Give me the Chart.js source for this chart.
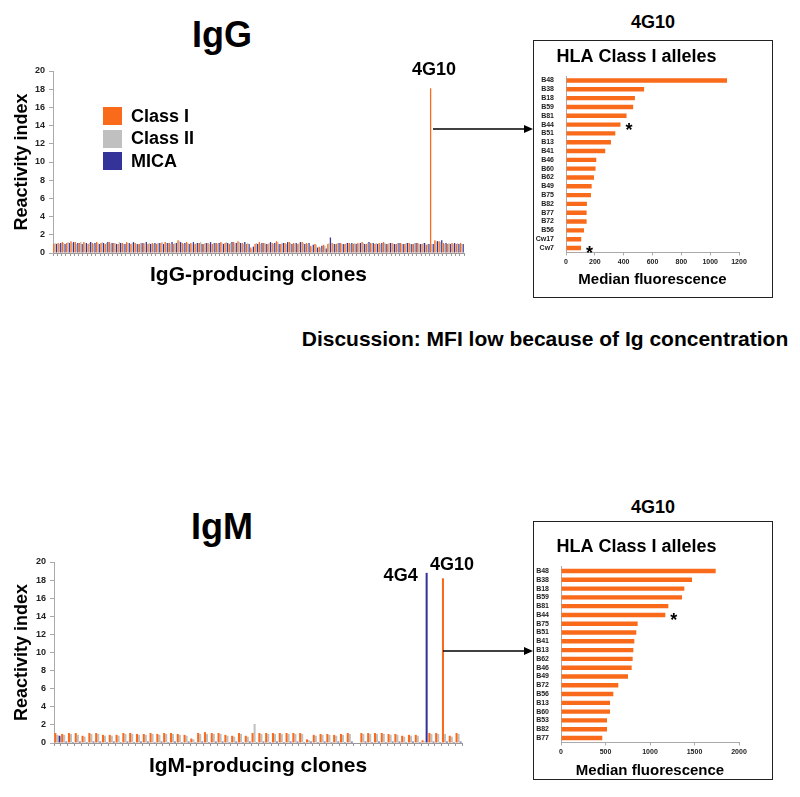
<!DOCTYPE html>
<html>
<head>
<meta charset="utf-8">
<script src="https://cdn.jsdelivr.net/npm/chart.js@4.4.1/dist/chart.umd.min.js"></script>
<style>
  body { margin: 0; background: #fff; font-family: "Liberation Sans", Arial, sans-serif; }
  #page { position: relative; width: 800px; height: 797px; overflow: hidden; }
  .lbl { position: absolute; font-weight: bold; color: #000; white-space: nowrap; line-height: 1; transform: translate(-50%, -50%); }
  .box { position: absolute; border: 1.5px solid #222; box-sizing: border-box; }
  canvas { position: absolute; }
  #legend { position: absolute; left: 103px; top: 105px; }
  .leg-row { display: flex; align-items: center; height: 22.5px; font-weight: bold; font-size: 18px; color: #000; }
  .leg-sw { width: 19px; height: 18px; margin-right: 9px; }
  svg { position: absolute; left: 0; top: 0; }
</style>
</head>
<body>
<div id="page">
  <div class="lbl" style="left:222px; top:35px; font-size:36px;">IgG</div>
  <div class="lbl" style="left:222px; top:527px; font-size:36px;">IgM</div>
  <div class="lbl" style="left:653px; top:22px; font-size:18px;">4G10</div>
  <div class="lbl" style="left:653px; top:507px; font-size:18px;">4G10</div>
  <div class="lbl" style="left:545px; top:338px; font-size:21px;">Discussion: MFI low because of Ig concentration</div>

  <div class="box" style="left:533px; top:40px; width:240px; height:258px;"></div>
  <div class="box" style="left:533px; top:521px; width:240px; height:259px;"></div>

  <canvas id="iggChart" width="475" height="240" style="left:0; top:55px;"></canvas>
  <canvas id="igmChart" width="475" height="240" style="left:0; top:546px;"></canvas>
  <canvas id="iggAlleles" width="238" height="256" style="left:534px; top:41px;"></canvas>
  <canvas id="igmAlleles" width="238" height="258" style="left:534px; top:523px;"></canvas>

  <div id="legend"></div>

  <svg width="800" height="797">
    <line x1="433" y1="129" x2="526" y2="129" stroke="#000" stroke-width="1.5"/>
    <polygon points="533,129 524,125 524,133" fill="#000"/>
    <line x1="443" y1="651" x2="526" y2="651" stroke="#000" stroke-width="1.5"/>
    <polygon points="533,651 524,647 524,655" fill="#000"/>
  </svg>
</div>

<script>
// series
const seriesNames = ["Class I", "Class II", "MICA"];
const seriesColors = ["#f96a1b", "#c0c0c0", "#333399"];

// IgG-producing clones, reactivity index
const iggClassI = [
  1.0,1.1,1.2,1.1,1.3,1.2,1.1,1.2,1.0,1.1,
  1.2,1.1,1.0,1.2,1.1,1.0,1.1,1.2,1.0,1.1,
  1.0,1.1,1.0,1.1,1.0,1.1,1.2,1.1,1.0,1.4,
  1.1,1.2,1.1,1.0,1.1,1.0,1.1,1.0,1.1,1.2,
  1.1,1.0,1.2,1.3,1.1,1.0,0.6,1.0,1.2,1.1,
  1.0,1.1,1.3,1.0,1.1,1.2,1.1,1.0,1.2,1.1,
  0.8,1.0,0.7,0.9,1.0,1.1,1.0,1.1,1.0,1.1,
  1.0,1.1,1.2,1.0,1.1,1.0,1.1,1.2,1.0,1.1,
  1.0,1.1,1.0,1.1,1.0,1.1,1.0,0.9,18.1,1.4,
  1.3,1.1,1.0,1.1,1.0,1.1
];
const iggClassII = [
  1.1,1.0,1.1,1.2,1.1,1.0,1.2,1.1,1.1,1.0,
  1.1,1.2,1.1,1.0,1.1,1.2,1.0,1.1,1.1,1.0,
  1.1,1.0,1.1,1.0,1.1,1.2,1.1,1.0,1.1,1.3,
  1.0,1.1,1.0,1.1,1.2,1.1,1.0,1.1,1.0,1.1,
  1.2,1.1,1.0,1.2,1.0,1.1,0.4,1.1,1.0,1.1,
  1.1,1.0,1.2,1.1,1.0,1.1,1.0,1.1,1.1,1.0,
  0.7,0.9,0.6,0.8,1.1,1.0,1.1,1.0,1.1,1.0,
  1.1,1.0,1.1,1.1,1.0,1.1,1.0,1.1,1.1,1.0,
  1.1,1.0,1.1,1.0,1.1,1.0,1.1,1.0,1.0,1.3,
  1.2,1.0,1.1,1.0,1.1,1.0
];
const iggMica = [
  1.0,1.1,1.0,1.1,1.2,1.1,1.0,1.1,1.2,1.1,
  1.0,1.1,1.2,1.1,1.0,1.1,1.0,1.1,1.2,1.0,
  1.1,1.2,1.0,1.1,1.1,1.0,1.1,1.2,1.1,1.2,
  1.1,1.0,1.2,1.1,1.0,1.1,1.2,1.1,1.1,1.0,
  1.1,1.2,1.1,1.1,1.2,1.0,0.7,1.0,1.1,1.0,
  1.2,1.1,1.0,1.1,1.2,1.0,1.1,1.2,1.0,1.1,
  0.9,0.6,0.8,0.5,1.7,1.0,1.1,1.0,1.1,1.1,
  1.0,1.1,1.0,1.2,1.1,1.0,1.1,1.0,1.1,1.0,
  1.1,1.0,1.1,1.0,1.1,1.0,1.1,1.0,1.0,1.3,
  1.4,1.1,1.0,1.1,1.0,1.0
];

// IgM-producing clones, reactivity index
const igmClassI = [
  1.1,1.0,1.1,1.1,0.8,1.1,1.1,0.9,0.9,0.9,
  1.1,1.1,1.0,1.0,1.1,1.0,1.1,1.1,1.0,0.9,
  0.5,1.1,1.2,1.1,1.1,0.9,0.8,1.1,0.8,1.1,
  1.1,1.1,1.1,1.1,1.1,1.1,1.1,0.4,0.9,1.0,
  1.0,0.9,1.0,1.1,0,1.1,1.1,1.1,1.1,1.0,
  1.0,0.8,0.9,0.9,0.3,1.1,1.1,18.2,0.8,1.1
];
const igmClassII = [
  0.9,0.9,1.0,0.9,0.7,1.0,1.0,0.8,0.8,0.8,
  1.0,1.0,0.9,0.9,1.0,0.9,1.0,1.0,0.9,0.8,
  0.4,1.0,1.0,1.0,1.0,0.8,0.7,1.0,0.7,2.1,
  1.0,1.0,1.0,1.0,1.0,1.0,1.0,0.3,0.8,0.9,
  0.9,0.8,0.9,1.0,0,1.0,1.0,1.0,1.0,0.9,
  0.9,0.7,0.8,0.8,0.2,1.0,1.0,1.0,0.7,1.0
];
const igmMica = [
  0.8,0.15,0.1,0.15,0.1,0.15,0.15,0.1,0.15,0.1,
  0.15,0.1,0.15,0.15,0.1,0.15,0.1,0.15,0.1,0.15,
  0.1,0.15,0.1,0.15,0.15,0.1,0.15,0.1,0.15,0.1,
  0.15,0.1,0.15,0.1,0.15,0.15,0.1,0.15,0.1,0.15,
  0.1,0.15,0.1,0.15,0,0.15,0.1,0.15,0.1,0.15,
  0.15,0.1,0.15,0.1,18.8,0.15,0.1,0.15,0.1,0.15
];

// 4G10 allele reactivity (median fluorescence)
const iggAlleleLabels = ["B48","B38","B18","B59","B81","B44","B51","B13","B41","B46",
                         "B60","B62","B49","B75","B82","B77","B72","B56","Cw17","Cw7"];
const iggAlleleMfi = [1117,542,478,466,420,378,342,312,272,210,
                      205,194,178,173,145,143,143,125,106,104];
const igmAlleleLabels = ["B48","B38","B18","B59","B81","B44","B75","B51","B41","B13",
                         "B62","B46","B49","B72","B56","B13","B60","B53","B82","B77"];
const igmAlleleMfi = [1738,1472,1386,1360,1206,1172,861,846,824,813,
                      805,794,753,644,588,551,551,517,517,464];

Chart.defaults.font.family = '"Liberation Sans", Arial, sans-serif';
Chart.defaults.color = '#222';

// legend (HTML)
const legendEl = document.getElementById('legend');
seriesNames.forEach((name, i) => {
  const row = document.createElement('div');
  row.className = 'leg-row';
  row.innerHTML = '<span class="leg-sw" style="background:' + seriesColors[i] + '"></span>' + name;
  legendEl.appendChild(row);
});

// text labels next to bars (clone names, asterisks)
const notePlugin = {
  id: 'notes',
  afterDatasetsDraw(chart, args, opts) {
    const ctx = chart.ctx;
    (opts.items || []).forEach(n => {
      const bar = chart.getDatasetMeta(n.dataset).data[n.index];
      if (!bar) return;
      ctx.save();
      ctx.font = n.font;
      ctx.fillStyle = '#000';
      ctx.textAlign = n.align;
      ctx.textBaseline = n.baseline;
      ctx.fillText(n.text, bar.x + n.dx, bar.y + n.dy);
      ctx.restore();
    });
  }
};

function makeClonesChart(id, classI, classII, mica, xTitle, pad, yWidth, xHeight, notes) {
  const labels = classI.map((_, i) => String(i + 1));
  const series = [classI, classII, mica];
  new Chart(document.getElementById(id), {
    type: 'bar',
    data: {
      labels: labels,
      datasets: series.map((d, i) => ({
        label: seriesNames[i],
        data: d,
        backgroundColor: seriesColors[i],
        categoryPercentage: 0.9,
        barPercentage: 1.0
      }))
    },
    options: {
      responsive: false,
      animation: false,
      layout: { padding: pad },
      plugins: {
        legend: { display: false },
        tooltip: { enabled: false },
        notes: { items: notes }
      },
      scales: {
        x: {
          ticks: { display: false },
          grid: { drawOnChartArea: false, tickLength: 3, color: '#999' },
          border: { color: '#999' },
          title: { display: true, text: xTitle, color: '#000', font: { size: 21, weight: 'bold' }, padding: { top: 0, bottom: 7.4 } },
          afterFit: s => { s.height = xHeight; }
        },
        y: {
          min: 0, max: 20,
          ticks: { stepSize: 2, color: '#222', font: { size: 9, weight: 'bold' }, padding: 4 },
          grid: { drawOnChartArea: false, tickLength: 4, color: '#aaa' },
          border: { color: '#aaa' },
          title: { display: true, text: 'Reactivity index', color: '#000', font: { size: 18, weight: 'bold' }, padding: { top: 11, bottom: 0 } },
          afterFit: s => { s.width = yWidth; }
        }
      }
    },
    plugins: [notePlugin]
  });
}

function makeAlleleChart(id, labels, values, maxX, stepX, yWidth, titlePad, xHeight, xTitlePad, notes) {
  new Chart(document.getElementById(id), {
    type: 'bar',
    data: {
      labels: labels,
      datasets: [{ data: values, backgroundColor: seriesColors[0], barPercentage: 0.5, categoryPercentage: 1 }]
    },
    options: {
      indexAxis: 'y',
      responsive: false,
      animation: false,
      layout: { padding: { top: 0, right: 33, bottom: 0, left: 0 } },
      plugins: {
        legend: { display: false },
        tooltip: { enabled: false },
        title: { display: true, text: 'HLA Class I alleles', color: '#000', font: { size: 18, weight: 'bold' }, padding: titlePad },
        notes: { items: notes }
      },
      scales: {
        x: {
          min: 0, max: maxX,
          ticks: { stepSize: stepX, color: '#222', font: { size: 7, weight: 'bold' }, padding: 2, maxRotation: 0,
                   callback: v => String(v) },
          grid: { drawOnChartArea: false, tickLength: 3, color: '#aaa' },
          border: { color: '#aaa' },
          title: { display: true, text: 'Median fluorescence', color: '#000', font: { size: 15, weight: 'bold' }, padding: { top: 0, bottom: xTitlePad } },
          afterFit: s => { s.height = xHeight; }
        },
        y: {
          ticks: { color: '#222', font: { size: 7, weight: 'bold' }, padding: 4, autoSkip: false },
          grid: { display: false },
          border: { color: '#aaa' },
          afterFit: s => { s.width = yWidth; }
        }
      }
    },
    plugins: [notePlugin]
  });
}

const cloneFont = 'bold 18px "Liberation Sans", Arial, sans-serif';
const starFont = 'bold 18px "Liberation Sans", Arial, sans-serif';

makeClonesChart('iggChart', iggClassI, iggClassII, iggMica, 'IgG-producing clones',
  { top: 16, right: 11, bottom: 0, left: 0 }, 53, 42,
  [{ dataset: 0, index: 88, text: '4G10', font: cloneFont, align: 'center', baseline: 'bottom', dx: 3.5, dy: -9 }]);

makeClonesChart('igmChart', igmClassI, igmClassII, igmMica, 'IgM-producing clones',
  { top: 16, right: 13, bottom: 0, left: 0 }, 54, 43,
  [{ dataset: 2, index: 54, text: '4G4', font: cloneFont, align: 'right', baseline: 'middle', dx: -9, dy: 3 },
   { dataset: 0, index: 57, text: '4G10', font: cloneFont, align: 'center', baseline: 'middle', dx: 9, dy: -13 }]);

makeAlleleChart('iggAlleles', iggAlleleLabels, iggAlleleMfi, 1200, 200, 32,
  { top: 5, bottom: 8.5 }, 44.6, 8,
  [{ dataset: 0, index: 5, text: '*', font: starFont, align: 'left', baseline: 'alphabetic', dx: 5, dy: 11 },
   { dataset: 0, index: 19, text: '*', font: starFont, align: 'left', baseline: 'alphabetic', dx: 5, dy: 11 }]);

makeAlleleChart('igmAlleles', igmAlleleLabels, igmAlleleMfi, 2000, 500, 27,
  { top: 13.2, bottom: 8.8 }, 38.6, 1,
  [{ dataset: 0, index: 5, text: '*', font: starFont, align: 'left', baseline: 'alphabetic', dx: 5, dy: 11 }]);
</script>
</body>
</html>
